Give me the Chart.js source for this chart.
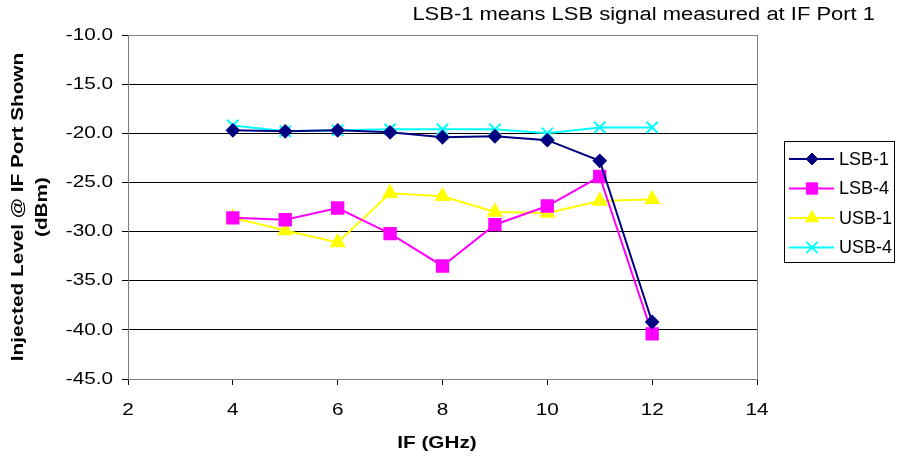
<!DOCTYPE html>
<html>
<head>
<meta charset="utf-8">
<script src="https://cdn.jsdelivr.net/npm/chart.js@4"></script>
<style>
  body { margin: 0; background: #fff; }
  #wrap { width: 905px; height: 460px; position: relative; }
</style>
</head>
<body>
<div id="wrap"><canvas id="myChart"></canvas></div>
<script>
// data
const ifGHz = [4, 5, 6, 7, 8, 9, 10, 11, 12];
const lsb1 = [-19.7, -19.8, -19.7, -19.9, -20.4, -20.3, -20.7, -22.8, -39.2];
const lsb4 = [-28.6, -28.8, -27.6, -30.2, -33.5, -29.3, -27.4, -24.4, -40.4];
const usb1 = [-28.6, -29.9, -31.1, -26.1, -26.4, -28.0, -28.1, -26.9, -26.7];
const usb4 = [-19.2, -19.8, -19.7, -19.6, -19.6, -19.6, -20.0, -19.4, -19.4];
const seriesNames = ["LSB-1", "LSB-4", "USB-1", "USB-4"];
const noteText = "LSB-1 means LSB signal measured at IF Port 1";
const xTitle = "IF (GHz)";
const yTitle = ["Injected Level @ IF Port Shown", "(dBm)"];

const FONT = "'Liberation Sans', Arial, sans-serif";
const WIDE = 1.22; // the original text is set wider than Arial

function pts(ys) {
  return ys.map((y, i) => ({ x: ifGHz[i], y: y }));
}

// text drawn a bit stretched along its run
function wideText(ctx, txt, x, y, align, font, sx, rot) {
  ctx.save();
  ctx.translate(x, y);
  if (rot) ctx.rotate(rot);
  ctx.scale(sx, 1);
  ctx.font = font;
  ctx.textAlign = align;
  ctx.textBaseline = "middle";
  ctx.fillStyle = "#000";
  ctx.fillText(txt, 0, 0);
  ctx.restore();
}

const data = {
  datasets: [
    { label: seriesNames[0], data: pts(lsb1), borderColor: "#000080", backgroundColor: "#000080",
      pointStyle: "rectRot", pointRadius: 6 },
    { label: seriesNames[1], data: pts(lsb4), borderColor: "#FF00FF", backgroundColor: "#FF00FF",
      pointStyle: "rect", pointRadius: 8 },
    { label: seriesNames[2], data: pts(usb1), borderColor: "#FFFF00", backgroundColor: "#FFFF00",
      pointStyle: "triangle", pointRadius: 7.5 },
    { label: seriesNames[3], data: pts(usb4), borderColor: "#00FFFF", backgroundColor: "#00FFFF",
      pointStyle: "cross", pointRadius: 8, pointRotation: 45, pointBorderWidth: 2 },
  ],
};
data.datasets.forEach((d) => { d.borderWidth = 2; d.tension = 0; d.fill = false; });

const extras = {
  id: "extras",
  beforeDatasetsDraw(chart) {
    const { ctx, chartArea: a } = chart;
    ctx.save();
    ctx.strokeStyle = "#808080";
    ctx.lineWidth = 1;
    ctx.strokeRect(a.left + 0.5, a.top + 0.5, a.right - a.left, a.bottom - a.top);
    ctx.restore();
  },
  afterDraw(chart) {
    const { ctx, chartArea: a } = chart;
    const xs = chart.scales.x, ys = chart.scales.y;

    // tick labels
    ys.ticks.forEach((t) => {
      wideText(ctx, t.value.toFixed(1), 113, ys.getPixelForValue(t.value), "right",
        "17px " + FONT, WIDE);
    });
    xs.ticks.forEach((t) => {
      wideText(ctx, String(t.value), xs.getPixelForValue(t.value), 410, "center",
        "17px " + FONT, WIDE);
    });

    // titles
    wideText(ctx, noteText, 875, 15, "right", "18px " + FONT, WIDE);
    wideText(ctx, xTitle, 437, 443, "center", "bold 17px " + FONT, WIDE);
    const cy = (a.top + a.bottom) / 2;
    wideText(ctx, yTitle[0], 18, cy, "center", "bold 17px " + FONT, WIDE, -Math.PI / 2);
    wideText(ctx, yTitle[1], 42, cy, "center", "bold 17px " + FONT, WIDE, -Math.PI / 2);

    // legend
    ctx.save();
    const lx = 784, ly = 141, lw = 110, lh = 121;
    ctx.strokeStyle = "#000";
    ctx.lineWidth = 1;
    ctx.strokeRect(lx + 0.5, ly + 0.5, lw, lh);
    chart.data.datasets.forEach((d, i) => {
      const y = ly + 18 + i * 29.5;
      ctx.strokeStyle = d.borderColor;
      ctx.lineWidth = 2;
      ctx.beginPath();
      ctx.moveTo(lx + 5, y);
      ctx.lineTo(lx + 50, y);
      ctx.stroke();
      ctx.fillStyle = d.backgroundColor;
      ctx.lineWidth = d.pointBorderWidth || 1;
      Chart.helpers.drawPoint(ctx, {
        pointStyle: d.pointStyle, radius: d.pointRadius, rotation: d.pointRotation || 0,
        borderWidth: d.pointBorderWidth || 1,
      }, lx + 28, y);
      wideText(ctx, d.label, lx + 55, y + 1, "left", "18px " + FONT, 1.0);
    });
    ctx.restore();
  },
};

const config = {
  type: "line",
  data: data,
  options: {
    responsive: true,
    maintainAspectRatio: false,
    animation: false,
    layout: { padding: { top: 35, right: 148, left: 0, bottom: 0 } },
    plugins: { legend: { display: false }, tooltip: { enabled: false } },
    scales: {
      x: {
        type: "linear",
        min: 2, max: 14,
        afterFit(s) { s.height = 81; },
        ticks: { stepSize: 2, color: "rgba(0,0,0,0)", font: { family: FONT, size: 17 }, maxRotation: 0 },
        grid: { drawOnChartArea: false, tickLength: 6, color: "#000" },
        border: { color: "#000" },
      },
      y: {
        min: -45, max: -10,
        afterFit(s) { s.width = 128; },
        ticks: { stepSize: 5, color: "rgba(0,0,0,0)", font: { family: FONT, size: 17 } },
        grid: { color: "#000", tickLength: 6, lineWidth: 1 },
        border: { color: "#000" },
      },
    },
  },
  plugins: [extras],
};

const myChart = new Chart(document.getElementById("myChart"), config);
</script>
</body>
</html>
